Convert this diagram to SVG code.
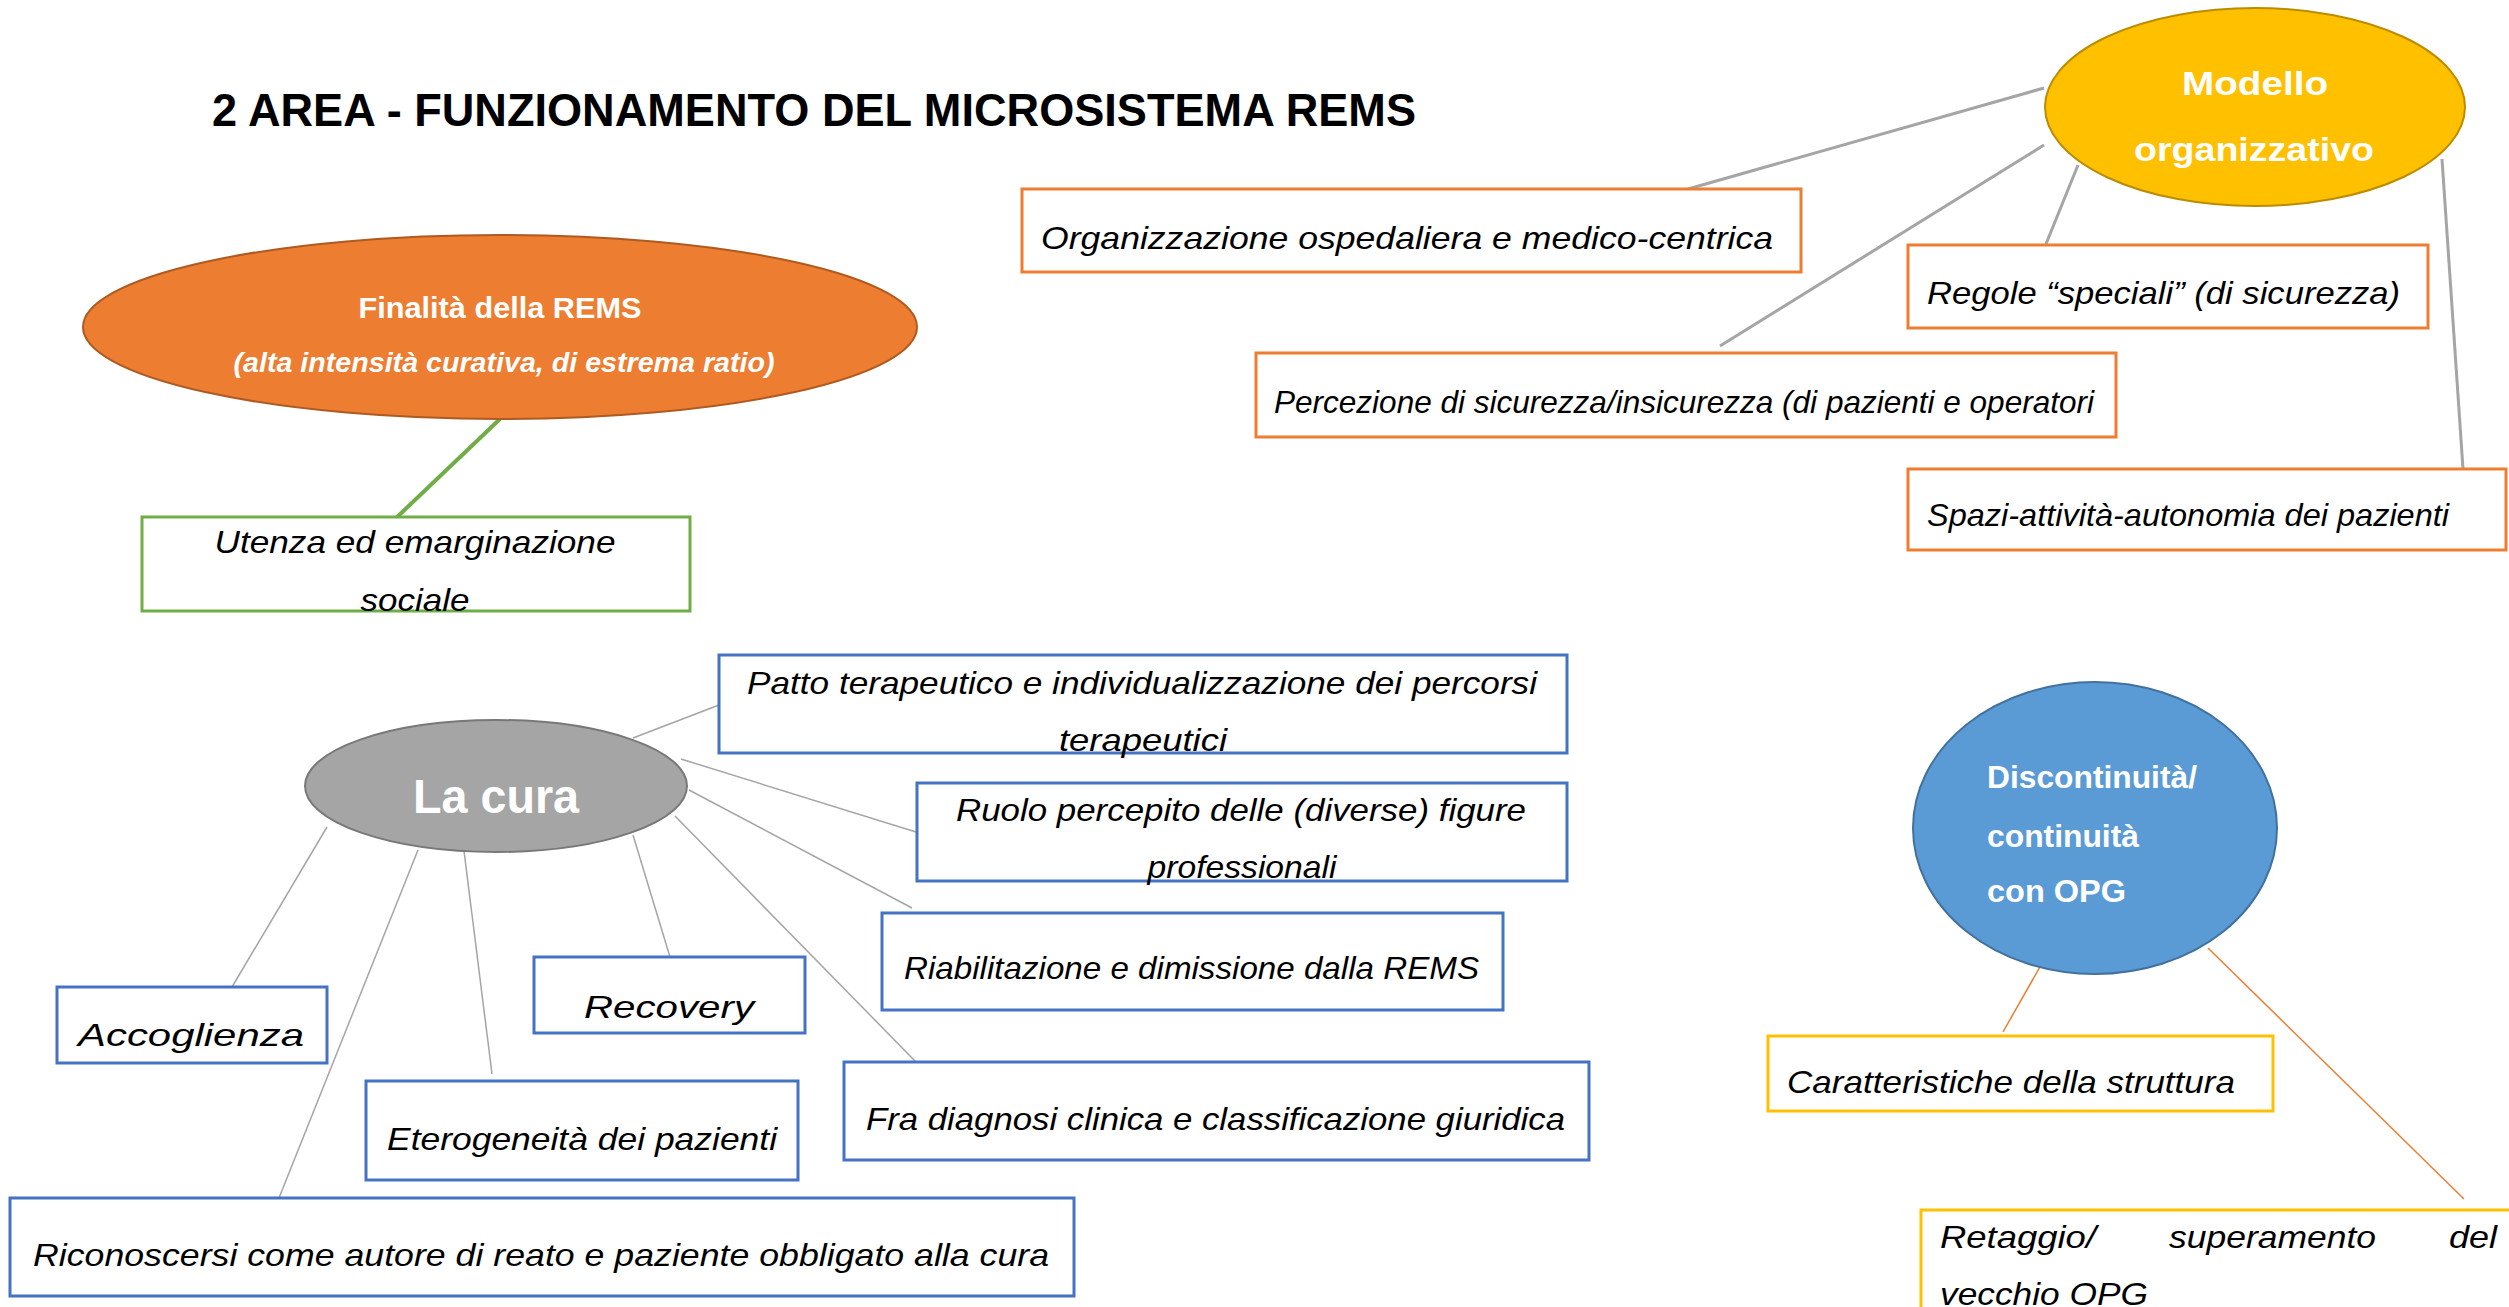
<svg xmlns="http://www.w3.org/2000/svg" width="2509" height="1307" viewBox="0 0 2509 1307">
<style>
.t{font-family:"Liberation Sans",Arial,sans-serif;fill:#000}
.i{font-style:italic;font-size:32px}
.b{font-weight:bold;fill:#fff}
.box{fill:#fff;stroke-width:3}
.bl{stroke:#4472C4}
.or{stroke:#ED7D31}
.ye{stroke:#FFC000}
.gr{stroke:#70AD47}
.cg{stroke:#A5A5A5;fill:none}
</style>
<rect width="2509" height="1307" fill="#fff"/>
<g id="title"><text class="t" x="212" y="126" font-size="46" font-weight="bold" textLength="1204" lengthAdjust="spacingAndGlyphs">2 AREA - FUNZIONAMENTO DEL MICROSISTEMA REMS</text></g>
<g id="connectors">
<line x1="500" y1="419" x2="395" y2="519" stroke="#70AD47" stroke-width="4"/>
<g class="cg" stroke-width="3">
<line x1="2044" y1="88" x2="1688" y2="189"/>
<line x1="2044" y1="145" x2="1720" y2="346"/>
<line x1="2078" y1="165" x2="2046" y2="244"/>
<line x1="2442" y1="159" x2="2463" y2="469"/>
</g>
<g class="cg" stroke-width="1.5">
<line x1="633" y1="738" x2="719" y2="705"/>
<line x1="681" y1="759" x2="916" y2="832"/>
<line x1="689" y1="790" x2="912" y2="908"/>
<line x1="675" y1="816" x2="916" y2="1062"/>
<line x1="633" y1="835" x2="670" y2="957"/>
<line x1="464" y1="851" x2="492" y2="1074"/>
<line x1="418" y1="850" x2="279" y2="1198"/>
<line x1="327" y1="827" x2="232" y2="987"/>
</g>
<line x1="2045" y1="958" x2="2003" y2="1032" stroke="#ED7D31" stroke-width="1.5"/>
<line x1="2208" y1="948" x2="2464" y2="1199" stroke="#ED7D31" stroke-width="1.5"/>
</g>
<g id="finalita">
<ellipse cx="500" cy="327" rx="417" ry="92" fill="#ED7D31" stroke="#AE5A21" stroke-width="2"/>
<text class="t b" x="500" y="318" font-size="30" text-anchor="middle" textLength="283" lengthAdjust="spacingAndGlyphs">Finalità della REMS</text>
<text class="t b" x="504" y="372" font-size="28" font-style="italic" text-anchor="middle" textLength="541" lengthAdjust="spacingAndGlyphs">(alta intensità curativa, di estrema ratio)</text>
</g>
<g id="utenza">
<rect class="box gr" x="142" y="517" width="548" height="94"/>
<text class="t i" x="415" y="553" text-anchor="middle" textLength="401" lengthAdjust="spacingAndGlyphs">Utenza ed emarginazione</text>
<text class="t i" x="415" y="611" text-anchor="middle" textLength="109" lengthAdjust="spacingAndGlyphs">sociale</text>
</g>
<g id="modello">
<ellipse cx="2255" cy="107" rx="210" ry="99" fill="#FFC000" stroke="#BC8C00" stroke-width="2"/>
<text class="t b" x="2255" y="95" font-size="34" text-anchor="middle" textLength="146" lengthAdjust="spacingAndGlyphs">Modello</text>
<text class="t b" x="2254" y="161" font-size="34" text-anchor="middle" textLength="240" lengthAdjust="spacingAndGlyphs">organizzativo</text>
</g>
<g id="organizzazione">
<rect class="box or" x="1022" y="189" width="779" height="83"/>
<text class="t i" x="1041" y="249" textLength="732" lengthAdjust="spacingAndGlyphs">Organizzazione ospedaliera e medico-centrica</text>
</g>
<g id="regole">
<rect class="box or" x="1908" y="245" width="520" height="83"/>
<text class="t i" x="1927" y="304" textLength="473" lengthAdjust="spacingAndGlyphs">Regole “speciali” (di sicurezza)</text>
</g>
<g id="percezione">
<rect class="box or" x="1256" y="353" width="860" height="84"/>
<text class="t i" x="1274" y="413" textLength="820" lengthAdjust="spacingAndGlyphs">Percezione di sicurezza/insicurezza (di pazienti e operatori</text>
</g>
<g id="spazi">
<rect class="box or" x="1908" y="469" width="598" height="81"/>
<text class="t i" x="1927" y="526" textLength="522" lengthAdjust="spacingAndGlyphs">Spazi-attività-autonomia dei pazienti</text>
</g>
<g id="lacura">
<ellipse cx="496" cy="786" rx="191" ry="66" fill="#A5A5A5" stroke="#787878" stroke-width="2"/>
<text class="t b" x="413" y="813" font-size="48" textLength="166" lengthAdjust="spacingAndGlyphs">La cura</text>
</g>
<g id="patto">
<rect class="box bl" x="719" y="655" width="848" height="98"/>
<text class="t i" x="747" y="694" textLength="790" lengthAdjust="spacingAndGlyphs">Patto terapeutico e individualizzazione dei percorsi</text>
<text class="t i" x="1143" y="751" text-anchor="middle" textLength="168" lengthAdjust="spacingAndGlyphs">terapeutici</text>
</g>
<g id="ruolo">
<rect class="box bl" x="917" y="783" width="650" height="98"/>
<text class="t i" x="956" y="821" textLength="570" lengthAdjust="spacingAndGlyphs">Ruolo percepito delle (diverse) figure</text>
<text class="t i" x="1242" y="878" text-anchor="middle" textLength="189" lengthAdjust="spacingAndGlyphs">professionali</text>
</g>
<g id="riabilitazione">
<rect class="box bl" x="882" y="913" width="621" height="97"/>
<text class="t i" x="904" y="979" textLength="575" lengthAdjust="spacingAndGlyphs">Riabilitazione e dimissione dalla REMS</text>
</g>
<g id="fradiagnosi">
<rect class="box bl" x="844" y="1062" width="745" height="98"/>
<text class="t i" x="866" y="1130" textLength="699" lengthAdjust="spacingAndGlyphs">Fra diagnosi clinica e classificazione giuridica</text>
</g>
<g id="accoglienza">
<rect class="box bl" x="57" y="987" width="270" height="76"/>
<text class="t i" x="78" y="1046" font-size="36" textLength="226" lengthAdjust="spacingAndGlyphs">Accoglienza</text>
</g>
<g id="recovery">
<rect class="box bl" x="534" y="957" width="271" height="76"/>
<text class="t i" x="584" y="1018" font-size="36" textLength="170" lengthAdjust="spacingAndGlyphs">Recovery</text>
</g>
<g id="eterogeneita">
<rect class="box bl" x="366" y="1081" width="432" height="99"/>
<text class="t i" x="387" y="1150" textLength="390" lengthAdjust="spacingAndGlyphs">Eterogeneità dei pazienti</text>
</g>
<g id="riconoscersi">
<rect class="box bl" x="10" y="1198" width="1064" height="98"/>
<text class="t i" x="33" y="1266" textLength="1016" lengthAdjust="spacingAndGlyphs">Riconoscersi come autore di reato e paziente obbligato alla cura</text>
</g>
<g id="discontinuita">
<ellipse cx="2095" cy="828" rx="182" ry="146" fill="#5B9BD5" stroke="#41719C" stroke-width="2"/>
<text class="t b" x="1987" y="788" font-size="31" textLength="210" lengthAdjust="spacingAndGlyphs">Discontinuità/</text>
<text class="t b" x="1987" y="847" font-size="31" textLength="152" lengthAdjust="spacingAndGlyphs">continuità</text>
<text class="t b" x="1987" y="902" font-size="31" textLength="139" lengthAdjust="spacingAndGlyphs">con OPG</text>
</g>
<g id="caratteristiche">
<rect class="box ye" x="1768" y="1036" width="505" height="75"/>
<text class="t i" x="1787" y="1093" textLength="448" lengthAdjust="spacingAndGlyphs">Caratteristiche della struttura</text>
</g>
<g id="retaggio">
<rect class="box ye" x="1921" y="1210" width="620" height="120"/>
<text class="t i" y="1248"><tspan x="1940" textLength="156" lengthAdjust="spacingAndGlyphs">Retaggio/</tspan><tspan x="2169" textLength="207" lengthAdjust="spacingAndGlyphs">superamento</tspan><tspan x="2449" textLength="48" lengthAdjust="spacingAndGlyphs">del</tspan></text>
<text class="t i" x="1940" y="1305" textLength="208" lengthAdjust="spacingAndGlyphs">vecchio OPG</text>
</g>
</svg>
